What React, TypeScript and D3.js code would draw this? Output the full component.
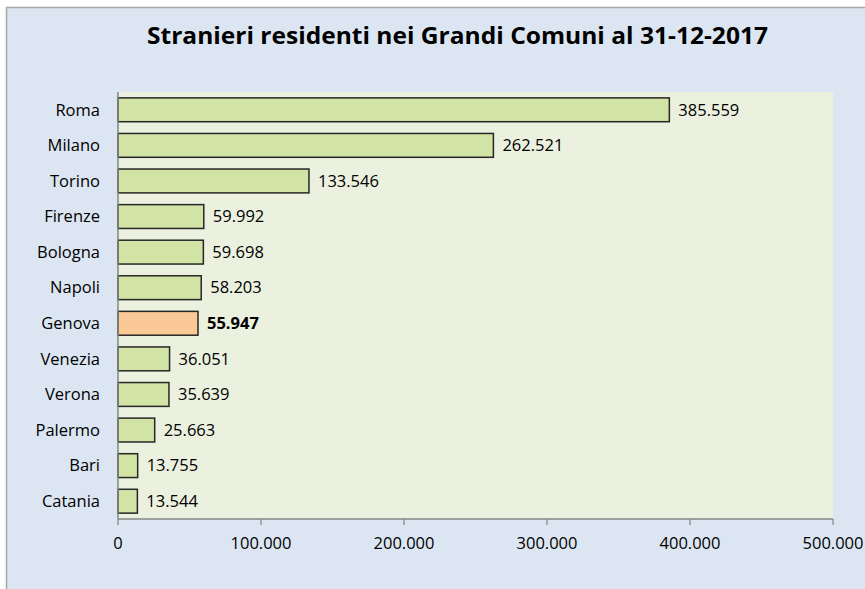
import React from "react";
import * as d3 from "d3";

const categories = ["Roma", "Milano", "Torino", "Firenze", "Bologna", "Napoli", "Genova", "Venezia", "Verona", "Palermo", "Bari", "Catania"];
const values = [385559, 262521, 133546, 59992, 59698, 58203, 55947, 36051, 35639, 25663, 13755, 13544];
const highlighted = ["Genova"];
const xTicks = [0, 100000, 200000, 300000, 400000, 500000];
const title = "Stranieri residenti nei Grandi Comuni al 31-12-2017";

const W = 865;
const H = 589;
const FONT = "'Open Sans', 'Noto Sans', sans-serif";

const locale = d3.formatLocale({ decimal: ",", thousands: ".", grouping: [3], currency: ["€", ""] });
const fmt = locale.format(",d");

export default function App() {
  const plotL = 118, plotR = 833, plotT = 92, plotB = 519;
  const x = d3.scaleLinear().domain([0, 500000]).range([plotL, plotR]);
  const y = d3.scaleBand<string>().domain(categories).range([plotT, plotB]).paddingInner(0.33).paddingOuter(0.165);
  const fs = 16.5;

  return (
    <div style={{ position: "fixed", left: 0, top: 0 }}>
      <svg width={W} height={H} style={{ display: "block", fontFamily: FONT }}>
        <rect x={0} y={0} width={W} height={H} fill="#ffffff" />
        <rect x={6.5} y={7.5} width={W + 20} height={H + 20} fill="#dce6f2" stroke="#a6a6a6" strokeWidth={1.5} />
        <text x={457.5} y={44} textAnchor="middle" fontWeight="bold" fontSize={23} fill="#000" textLength={621} lengthAdjust="spacingAndGlyphs">{title}</text>
        <rect x={plotL} y={plotT} width={plotR - plotL} height={plotB - plotT} fill="#ebf1de" />
        {categories.map((c, i) => {
          const v = values[i];
          const yy = y(c)!;
          const hl = highlighted.includes(c);
          return (
            <g key={c}>
              <rect x={x(0)} y={yy} width={x(v) - x(0)} height={y.bandwidth()} fill={hl ? "#fac995" : "#d2e3a6"} stroke="#262626" strokeWidth={1.5} />
              <text x={x(v) + 9} y={yy + y.bandwidth() / 2} dy="0.35em" fontSize={fs} fontWeight={hl ? "bold" : "normal"} fill="#000">{fmt(v)}</text>
              <text x={100} y={yy + y.bandwidth() / 2} dy="0.35em" textAnchor="end" fontSize={fs} fill="#000">{c}</text>
            </g>
          );
        })}
        <line x1={plotL} x2={plotL} y1={plotT} y2={plotB} stroke="#868686" strokeWidth={1.5} />
        <line x1={plotL} x2={plotR} y1={plotB} y2={plotB} stroke="#868686" strokeWidth={1.5} />
        {xTicks.map((t) => (
          <g key={t}>
            <line x1={x(t)} x2={x(t)} y1={plotB} y2={plotB + 6} stroke="#868686" strokeWidth={1.2} />
            <text x={x(t)} y={543} dy="0.35em" textAnchor="middle" fontSize={fs} fill="#000">{fmt(t)}</text>
          </g>
        ))}
      </svg>
    </div>
  );
}
